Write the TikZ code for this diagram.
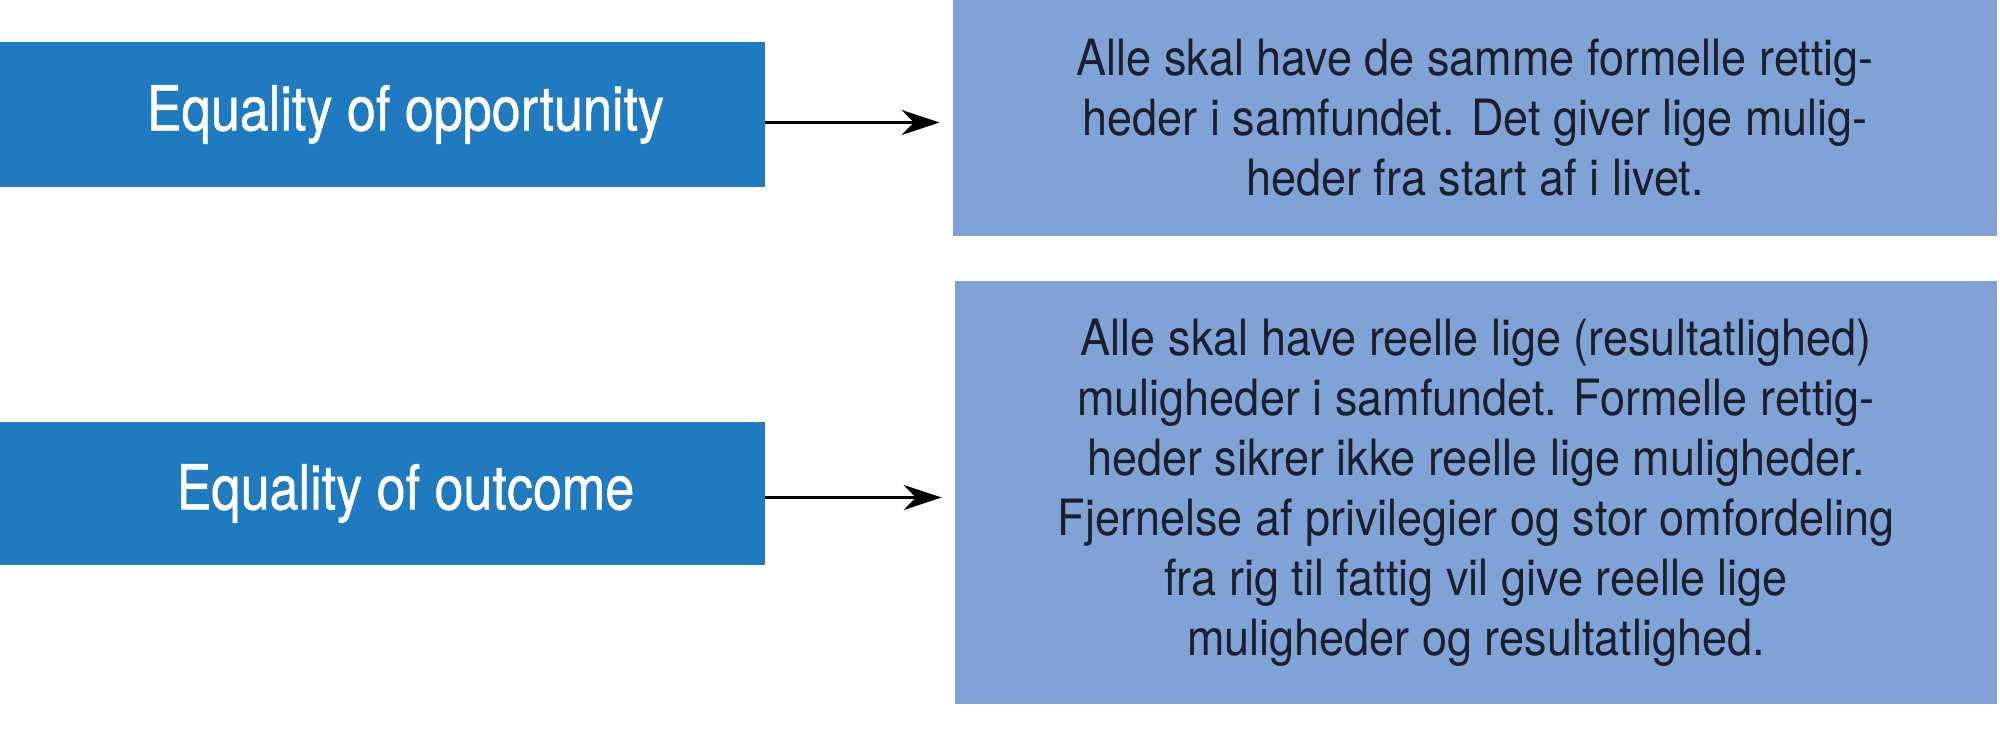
\documentclass[tikz,border=0pt]{standalone}
\usepackage{fontspec}
\usepackage{xcolor}
\usepackage{tikz}
\usetikzlibrary{arrows.meta}
\newfontfamily\titlefont[FakeStretch=0.84,FakeBold=0.8]{TeX Gyre Heros}
\newfontfamily\descfont[FakeStretch=0.9]{TeX Gyre Heros}
\definecolor{termblue}{HTML}{207AC0}
\definecolor{descblue}{HTML}{7FA3D6}
\definecolor{desctext}{HTML}{1B1E2B}

\begin{document}
\begin{tikzpicture}[x=0.5pt,y=0.5pt,
		term/.style={fill=termblue, text=white, inner sep=0pt, minimum width=382.5pt,
			font=\titlefont\fontsize{31pt}{36pt}\selectfont},
		desc/.style={fill=descblue, text=desctext, inner sep=0pt, align=center,
			font=\descfont\fontsize{25pt}{30pt}\selectfont},
		arr/.style={-{Stealth[length=19pt,width=12.5pt]}, line width=1.7pt, shorten >=6.5pt}]
			\useasboundingbox (0,0) rectangle (2000,745);
			% left: the two terms
			\node[term, minimum height=72.5pt](opp) at (382.5,630.5)
			{
				\hspace*{23pt}Equality of opportunity
			};
			\node[term, minimum height=71.5pt](out) at (382.5,251.5)
			{
				\hspace*{23pt}Equality of outcome
			};
			% right: what they mean
			\node[desc, minimum width=522pt, minimum height=118pt](oppdesc) at (1475,627)
			{
				Alle skal have de samme formelle rettig-\\
				heder i samfundet. Det giver lige mulig-\\
				heder fra start af i livet.
			};
			\node[desc, minimum width=521pt, minimum height=211.5pt](outdesc) at (1476,252.5)
			{
				Alle skal have reelle lige (resultatlighed)\\
				muligheder i samfundet. Formelle rettig-\\
				heder sikrer ikke reelle lige muligheder.\\
				Fjernelse af privilegier og stor omfordeling\\
				fra rig til fattig vil give reelle lige\\
				muligheder og resultatlighed.
			};
			\draw[arr] ([yshift=-4pt]opp.east) -- ([yshift=-4pt]opp.east -| oppdesc.west);
			\draw[arr] ([yshift=-2pt]out.east) -- ([yshift=-2pt]out.east -| outdesc.west);
		\end{tikzpicture}
\end{document}
